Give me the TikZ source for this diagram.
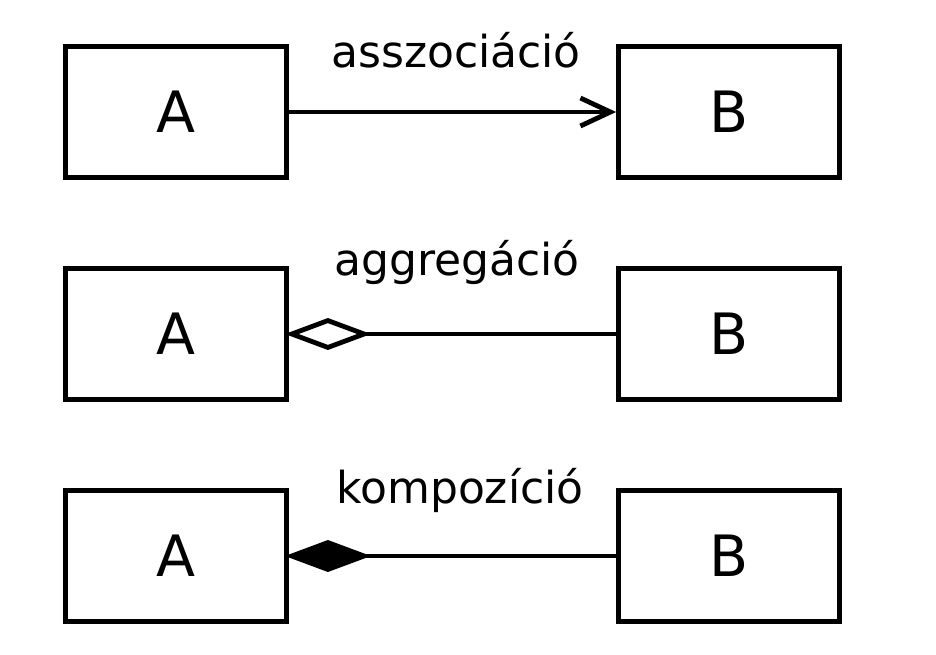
\documentclass[tikz,border=0pt]{standalone}
\usepackage{fontspec}
\setmainfont{DejaVu Sans}
\usetikzlibrary{arrows.meta}
\begin{document}
\begin{tikzpicture}[x=1pt,y=-1pt,
  cls/.style={draw,line width=4.8pt,minimum width=221pt,minimum height=131pt,inner sep=0pt,font=\fontsize{57}{60}\selectfont},
  conn/.style={line width=4.8pt},
  lbl/.style={anchor=base,inner sep=0pt,font=\fontsize{44}{48}\selectfont}]
\useasboundingbox (0,0) rectangle (936,654);
% row 1
\node[cls] (A1) at (176,112) {A};
\node[cls] (B1) at (729,112) {B};
\draw[conn,-{Straight Barb[length=30pt,width=28pt]}] (A1.east) -- (B1.west);
\node[lbl] (L1) at (456,67) {asszociáció};
% row 2
\node[cls] (A2) at (176,334) {A};
\node[cls] (B2) at (729,334) {B};
\draw[conn,shorten <=-4pt,{Diamond[open,length=86pt,width=32pt]}-] (A2.east) -- (B2.west);
\node[lbl] (L2) at (457,275) {aggregáció};
% row 3
\node[cls] (A3) at (176,556) {A};
\node[cls] (B3) at (729,556) {B};
\draw[conn,shorten <=-4pt,{Diamond[length=86pt,width=32pt]}-] (A3.east) -- (B3.west);
\node[lbl] (L3) at (460,503) {kompozíció};
\end{tikzpicture}
\end{document}
